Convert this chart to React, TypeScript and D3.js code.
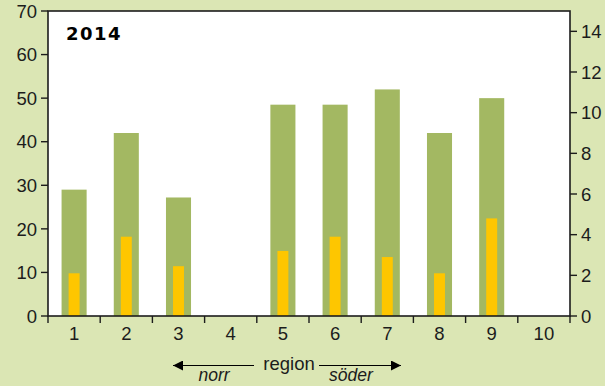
import React from "react";
import * as d3 from "d3";

const categories = ["1", "2", "3", "4", "5", "6", "7", "8", "9", "10"];
const greenValues: (number | null)[] = [29, 42, 27.2, null, 48.5, 48.5, 52, 42, 50, null];
const yellowValues: (number | null)[] = [2.1, 3.9, 2.45, null, 3.2, 3.9, 2.9, 2.1, 4.8, null];
const leftTicks = [0, 10, 20, 30, 40, 50, 60, 70];
const rightTicks = [0, 2, 4, 6, 8, 10, 12, 14];
const title = "2014";

const W = 605;
const H = 386;
const M = { left: 48, right: 570, top: 11, bottom: 316 };
const BG = "#dbe6b4";
const GREEN = "#a3b862";
const YELLOW = "#fec600";
const INK = "#1c1c1c";
const FONT = "'Liberation Sans', Arial, Helvetica, sans-serif";

export default function App() {
  const x = d3.scaleBand<string>().domain(categories).range([M.left, M.right]).padding(0);
  const yL = d3.scaleLinear().domain([0, 70]).range([M.bottom, M.top]);
  const yR = d3.scaleLinear().domain([0, 15]).range([M.bottom, M.top]);
  const bw = x.bandwidth();
  const gW = bw * 0.48;
  const yW = bw * 0.21;
  const boundaries = d3.range(categories.length + 1).map((i) => M.left + i * bw);

  return (
    <svg width={W} height={H} style={{ position: "absolute", left: 0, top: 0, display: "block" }}>
      <defs>
        <marker id="ah" viewBox="0 0 10 10" refX="10" refY="5" markerWidth="12" markerHeight="10" markerUnits="userSpaceOnUse" orient="auto">
          <path d="M0,0 L10,5 L0,10 z" fill="#000" />
        </marker>
      </defs>
      <rect x={0} y={0} width={W} height={H} fill={BG} />
      <rect x={M.left} y={M.top} width={M.right - M.left} height={M.bottom - M.top} fill="#fff" />
      {categories.map((c, i) => {
        const v = greenValues[i];
        if (v == null) return null;
        const cx = (x(c) as number) + bw / 2;
        return <rect key={"g" + c} x={cx - gW / 2} y={yL(v)} width={gW} height={M.bottom - yL(v)} fill={GREEN} />;
      })}
      {categories.map((c, i) => {
        const v = yellowValues[i];
        if (v == null) return null;
        const cx = (x(c) as number) + bw / 2;
        return <rect key={"y" + c} x={cx - yW / 2} y={yR(v)} width={yW} height={M.bottom - yR(v)} fill={YELLOW} />;
      })}
      <rect x={M.left} y={M.top} width={M.right - M.left} height={M.bottom - M.top} fill="none" stroke={INK} strokeWidth={1.6} />
      {leftTicks.map((t) => (
        <g key={"l" + t}>
          <line x1={M.left - 7} x2={M.left} y1={yL(t)} y2={yL(t)} stroke={INK} strokeWidth={1.4} />
          <text x={M.left - 11} y={yL(t)} dy="0.36em" textAnchor="end" fontFamily={FONT} fontSize={18.5} fill={INK}>{t}</text>
        </g>
      ))}
      {rightTicks.map((t) => (
        <g key={"r" + t}>
          <line x1={M.right} x2={M.right + 7} y1={yR(t)} y2={yR(t)} stroke={INK} strokeWidth={1.4} />
          <text x={M.right + 11} y={yR(t)} dy="0.36em" textAnchor="start" fontFamily={FONT} fontSize={18.5} fill={INK}>{t}</text>
        </g>
      ))}
      {boundaries.map((b, i) => (
        <line key={"b" + i} x1={b} x2={b} y1={M.bottom} y2={M.bottom + 7} stroke={INK} strokeWidth={1.4} />
      ))}
      {categories.map((c) => (
        <text key={"x" + c} x={(x(c) as number) + bw / 2} y={340} textAnchor="middle" fontFamily={FONT} fontSize={18.5} fill={INK}>{c}</text>
      ))}
      <text x={66} y={40} fontFamily="'DejaVu Sans', Verdana, sans-serif" fontSize={18} fontWeight="bold" letterSpacing={1.5} fill="#000">{title}</text>
      <line x1={254} x2={173} y1={365.5} y2={365.5} stroke="#000" strokeWidth={1.2} markerEnd="url(#ah)" />
      <line x1={319} x2={401} y1={365.5} y2={365.5} stroke="#000" strokeWidth={1.2} markerEnd="url(#ah)" />
      <text x={289} y={370} textAnchor="middle" fontFamily={FONT} fontSize={18.5} fill={INK}>region</text>
      <text x={214} y={381} textAnchor="middle" fontFamily={FONT} fontSize={17.5} fontStyle="italic" fill={INK}>norr</text>
      <text x={351} y={381} textAnchor="middle" fontFamily={FONT} fontSize={17.5} fontStyle="italic" fill={INK}>söder</text>
    </svg>
  );
}
